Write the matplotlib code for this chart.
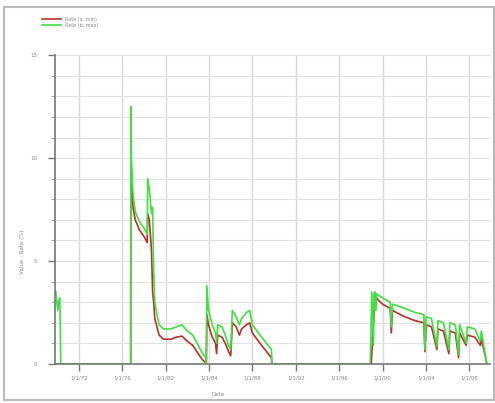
import matplotlib
matplotlib.use("Agg")
import matplotlib.pyplot as plt
from matplotlib.patches import Rectangle
from matplotlib.ticker import MultipleLocator, FuncFormatter

# decimal years and values
green_years = [1969.88, 1970.06, 1970.16, 1970.25, 1970.34, 1976.78,
               1976.80, 1976.85, 1977.0, 1977.2, 1977.6, 1978.0, 1978.3, 1978.35,
               1978.5, 1978.7, 1978.8, 1978.9, 1979.0, 1979.2, 1979.4, 1979.8,
               1980.5, 1981.0, 1981.5, 1982.0, 1982.5, 1983.0, 1983.4, 1983.7,
               1983.75, 1983.8, 1983.95, 1984.3, 1984.6, 1984.7, 1984.8, 1985.2,
               1985.5, 1985.8, 1986.0, 1986.15, 1986.5, 1986.8, 1987.0, 1987.45,
               1987.75, 1988.0, 1988.7, 1989.3, 1989.75, 1989.8, 1998.85,
               1998.9, 1999.0, 1999.15, 1999.2, 1999.3, 1999.35, 1999.45, 2000.0,
               2000.7, 2000.8, 2000.9, 2001.5, 2002.0, 2003.0, 2003.8, 2003.9,
               2004.0, 2004.5, 2005.0, 2005.1, 2005.6, 2006.1, 2006.2, 2006.7,
               2007.0, 2007.1, 2007.7, 2007.8, 2008.5, 2009.0, 2009.1, 2009.5,
               2009.6]
green_vals = [3.5, 2.6, 3.1, 3.2, 0.0, 0.0,
              12.5, 9.9, 8.2, 7.4, 6.9, 6.6, 6.3, 9.0,
              8.5, 7.3, 7.6, 4.5, 3.0, 2.4, 1.9, 1.7,
              1.7, 1.8, 1.9, 1.6, 1.4, 0.9, 0.5, 0.3,
              0.0, 3.8, 2.6, 1.9, 1.5, 1.0, 1.9, 1.8,
              1.4, 0.9, 0.7, 2.6, 2.3, 1.9, 2.2, 2.5,
              2.6, 1.9, 1.4, 1.0, 0.7, 0.0, 0.0,
              0.8, 3.5, 0.9, 3.4, 3.5, 2.6, 3.4, 3.2,
              3.0, 1.8, 2.9, 2.8, 2.7, 2.5, 2.4, 0.7,
              2.3, 2.2, 0.85, 2.1, 2.0, 0.7, 2.0, 1.9,
              0.45, 1.9, 1.0, 1.8, 1.7, 1.1, 1.6, 0.3,
              0.0]

red_years = [1969.88, 1976.78, 1976.80, 1977.0, 1977.2, 1977.6, 1978.0, 1978.3,
             1978.35, 1978.5, 1978.7, 1978.8, 1978.9, 1979.0, 1979.2, 1979.4,
             1979.8, 1980.5, 1981.0, 1981.5, 1982.0, 1982.5, 1983.0, 1983.4,
             1983.7, 1983.75, 1983.8, 1983.95, 1984.3, 1984.6, 1984.7, 1984.8,
             1985.2, 1985.5, 1985.8, 1986.0, 1986.15, 1986.5, 1986.8, 1987.0,
             1987.45, 1987.75, 1988.0, 1988.7, 1989.3, 1989.75, 1989.8, 1998.95,
             1999.0, 1999.3, 1999.6, 2000.0, 2000.7, 2000.8, 2000.9, 2002.0,
             2003.0, 2003.8, 2003.9, 2004.0, 2004.5, 2005.0, 2005.1, 2005.6,
             2006.1, 2006.2, 2006.7, 2007.0, 2007.1, 2007.7, 2007.8, 2008.5,
             2009.0, 2009.1, 2009.5, 2009.6]
red_vals = [0.0, 0.0, 9.8, 7.6, 7.0, 6.5, 6.2, 5.9,
            7.3, 7.0, 5.5, 3.5, 3.0, 2.2, 1.8, 1.4,
            1.2, 1.2, 1.3, 1.35, 1.1, 0.9, 0.5, 0.2,
            0.05, 0.0, 2.4, 1.9, 1.3, 1.0, 0.5, 1.4,
            1.3, 1.0, 0.6, 0.4, 2.0, 1.8, 1.4, 1.7,
            1.9, 2.0, 1.5, 1.0, 0.6, 0.3, 0.0, 0.0,
            0.5, 3.3, 3.1, 2.9, 2.7, 1.5, 2.6, 2.3,
            2.1, 2.0, 0.6, 1.9, 1.8, 0.7, 1.7, 1.6,
            0.5, 1.6, 1.5, 0.3, 1.5, 0.9, 1.4, 1.3,
            0.9, 1.2, 0.3, 0.0]

series_names = ["Rate (a, min)", "Rate (b, max)"]
x_ticks = list(range(1972, 2009, 4))

fig = plt.figure(figsize=(4.95, 4.03), dpi=100)
fig.patches.append(Rectangle((4 / 495, 3 / 403), 490 / 495, 393 / 403,
                             transform=fig.transFigure, fill=False,
                             edgecolor="#bbbbbb", linewidth=1.5))

ax = fig.add_axes([0.111, 0.097, 0.879, 0.766])
ax.plot(red_years, red_vals, color="#b3322a", linewidth=1.2, label=series_names[0])
ax.plot(green_years, green_vals, color="#3fe03f", linewidth=1.2, label=series_names[1])

ax.set_xlim(1969.8, 2009.9)
ax.set_ylim(0, 15)
ax.set_xticks(x_ticks)
ax.xaxis.set_major_formatter(FuncFormatter(lambda v, p: "1/1/%02d" % (int(round(v)) % 100)))
ax.yaxis.set_major_locator(MultipleLocator(5))
ax.yaxis.set_minor_locator(MultipleLocator(1))

ax.grid(True, which="major", axis="x", color="#d8d8d8", linewidth=1.0)
ax.grid(True, which="both", axis="y", color="#e2e2e2", linewidth=0.8)
ax.set_axisbelow(True)

for side in ["top", "right"]:
    ax.spines[side].set_visible(False)
for side in ["left", "bottom"]:
    ax.spines[side].set_color("#777777")
    ax.spines[side].set_linewidth(1.2)

ax.tick_params(axis="both", which="major", labelsize=4, colors="#777777",
               labelcolor="#888888", length=5, width=1)
ax.tick_params(axis="y", which="minor", length=3, colors="#999999")
ax.tick_params(axis="y", which="major", pad=8)

fig.text(0.045, 0.375, "Value - Rate (%)", rotation=90, fontsize=4,
         color="#888888", ha="center", va="center")
fig.text(0.44, 0.015, "Date", fontsize=4, color="#888888", ha="center", va="bottom")

ax.legend(loc="upper left", bbox_to_anchor=(0.08, 0.965), bbox_transform=fig.transFigure,
          fontsize=3.5, frameon=False, handlelength=4, labelcolor="#888888",
          borderpad=0, labelspacing=0.3)

fig.savefig("out.png", dpi=100)
